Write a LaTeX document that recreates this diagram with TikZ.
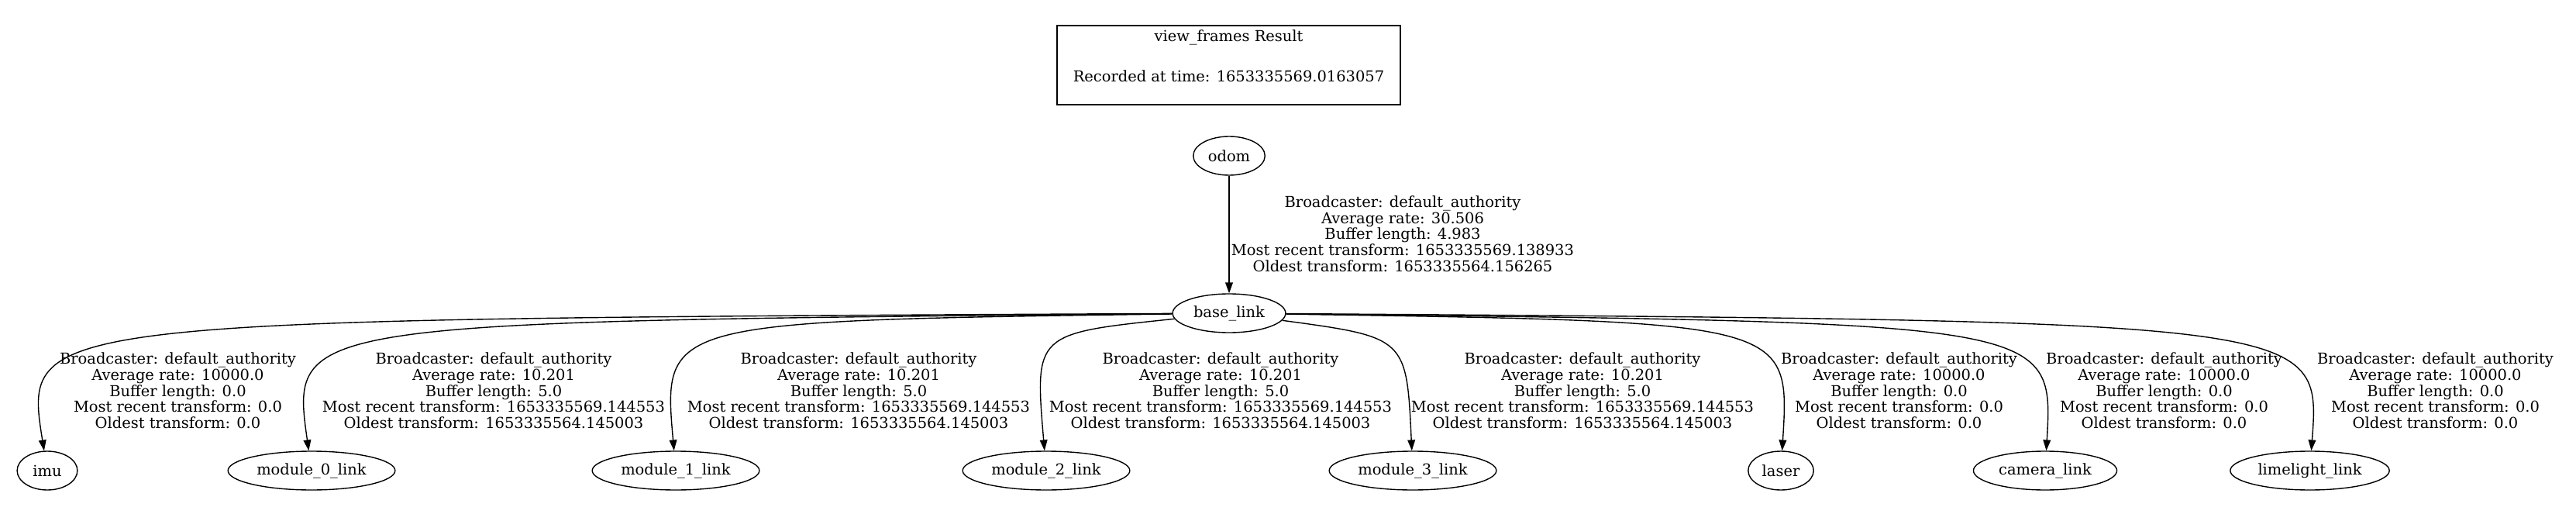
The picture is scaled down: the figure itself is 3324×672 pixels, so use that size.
\documentclass[tikz,border=0pt]{standalone}
\usepackage{fontspec}
\setmainfont{DejaVu Serif}
\usetikzlibrary{shapes.geometric,arrows.meta}

\begin{document}
\begin{tikzpicture}[x=0.72pt, y=-0.72pt,
  frame/.style={draw, ellipse, line width=1pt, minimum width=56pt, minimum height=36pt, inner xsep=4pt, inner ysep=0pt, font=\fontsize{14}{14.9}\selectfont},
  tf/.style={line width=1pt, -{Triangle[length=10pt, width=7pt]}},
  lbl/.style={align=center, inner sep=0pt, font=\fontsize{14}{14.9}\selectfont},
  res/.style={draw, line width=1.5pt, minimum width=319pt, minimum height=73.5pt, inner sep=2pt, align=center, font=\fontsize{14}{15}\selectfont}]
\useasboundingbox (0,0) rectangle (3324,672);
\node[res] (res) at (1585.5,84) {view\_frames Result\\[22.4pt]Recorded at time: 1653335569.0163057\\[2.4pt]{}};
\node[frame] (odom) at (1586,201) {odom};
\node[frame] (base) at (1586,404) {base\_link};
\node[frame] (imu) at (61,607) {imu};
\node[frame] (m0) at (402,607) {module\_0\_link};
\node[frame] (m1) at (872,607) {module\_1\_link};
\node[frame] (m2) at (1350,607) {module\_2\_link};
\node[frame] (m3) at (1823,607) {module\_3\_link};
\node[frame] (laser) at (2298,607) {laser};
\node[frame] (cam) at (2639,607) {camera\_link};
\node[frame] (lime) at (2980.5,607) {limelight\_link};
\node[lbl] (lodom) at (1810,301.5) {Broadcaster: default\_authority\\Average rate: 30.506\\Buffer length: 4.983\\Most recent transform: 1653335569.138933\\Oldest transform: 1653335564.156265};
\node[lbl] (limu) at (229.5,504) {Broadcaster: default\_authority\\Average rate: 10000.0\\Buffer length: 0.0\\Most recent transform: 0.0\\Oldest transform: 0.0};
\node[lbl] (lm0) at (637,504) {Broadcaster: default\_authority\\Average rate: 10.201\\Buffer length: 5.0\\Most recent transform: 1653335569.144553\\Oldest transform: 1653335564.145003};
\node[lbl] (lm1) at (1108,504) {Broadcaster: default\_authority\\Average rate: 10.201\\Buffer length: 5.0\\Most recent transform: 1653335569.144553\\Oldest transform: 1653335564.145003};
\node[lbl] (lm2) at (1575,504) {Broadcaster: default\_authority\\Average rate: 10.201\\Buffer length: 5.0\\Most recent transform: 1653335569.144553\\Oldest transform: 1653335564.145003};
\node[lbl] (lm3) at (2042,504) {Broadcaster: default\_authority\\Average rate: 10.201\\Buffer length: 5.0\\Most recent transform: 1653335569.144553\\Oldest transform: 1653335564.145003};
\node[lbl] (llaser) at (2450.5,504) {Broadcaster: default\_authority\\Average rate: 10000.0\\Buffer length: 0.0\\Most recent transform: 0.0\\Oldest transform: 0.0};
\node[lbl] (lcam) at (2792.5,504) {Broadcaster: default\_authority\\Average rate: 10000.0\\Buffer length: 0.0\\Most recent transform: 0.0\\Oldest transform: 0.0};
\node[lbl] (llime) at (3142.5,504) {Broadcaster: default\_authority\\Average rate: 10000.0\\Buffer length: 0.0\\Most recent transform: 0.0\\Oldest transform: 0.0};
\draw[tf] (odom) -- (base);
\draw[tf] (base) .. controls (30,412) .. (imu);
\draw[tf] (base) .. controls (375,415) .. (m0);
\draw[tf] (base) .. controls (855,414) .. (m1);
\draw[tf] (base) .. controls (1335,430) .. (m2);
\draw[tf] (base) .. controls (1815,435) .. (m3);
\draw[tf] (base) .. controls (2310,415) .. (laser);
\draw[tf] (base) .. controls (2650,416) .. (cam);
\draw[tf] (base) .. controls (2995,414) .. (lime);
\end{tikzpicture}
\end{document}
